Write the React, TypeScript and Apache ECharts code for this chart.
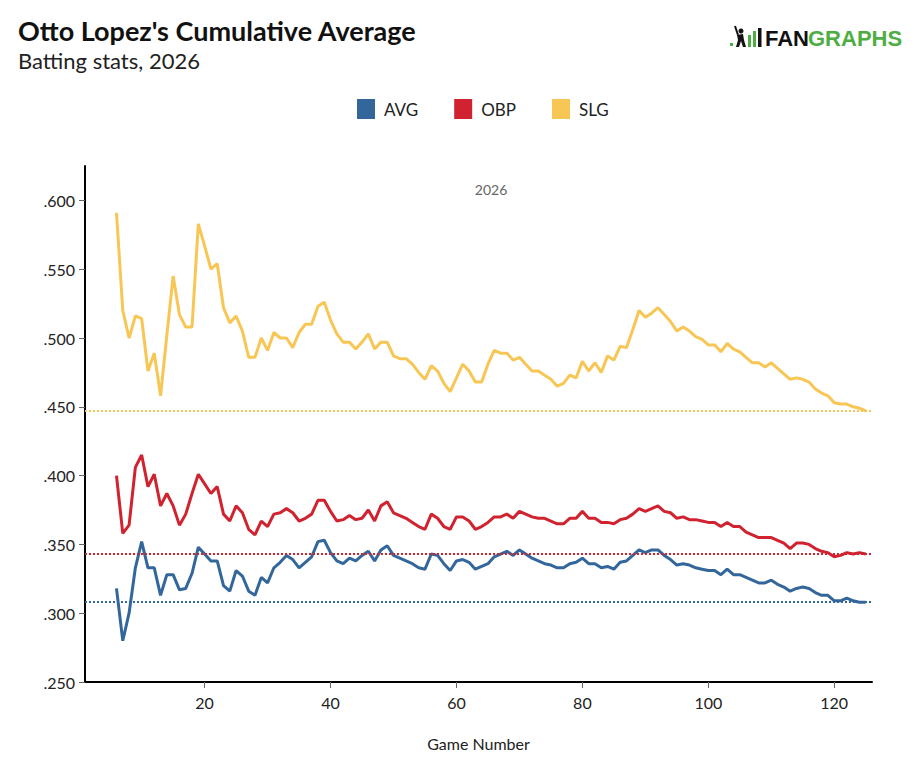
import React, { useEffect, useRef } from "react";
import * as echarts from "echarts";

// game number of the first point, one point per game after that
const firstGame = 6;

const avg = [
  0.318, 0.28, 0.3, 0.333, 0.352, 0.333, 0.333, 0.313, 0.328, 0.328,
  0.317, 0.318, 0.329, 0.348, 0.343, 0.338, 0.338, 0.32, 0.316, 0.331,
  0.327, 0.316, 0.313, 0.326, 0.322, 0.333, 0.337, 0.342, 0.339, 0.333,
  0.337, 0.341, 0.352, 0.353, 0.344, 0.338, 0.336, 0.34, 0.338, 0.342,
  0.345, 0.338, 0.346, 0.349, 0.342, 0.34, 0.338, 0.336, 0.333, 0.332,
  0.343, 0.342, 0.336, 0.331, 0.338, 0.339, 0.337, 0.332, 0.334, 0.336,
  0.341, 0.343, 0.345, 0.342, 0.346, 0.343, 0.34, 0.338, 0.336, 0.335,
  0.333, 0.333, 0.336, 0.337, 0.34, 0.336, 0.336, 0.333, 0.334, 0.332,
  0.337, 0.338, 0.342, 0.346, 0.344, 0.346, 0.346, 0.342, 0.339, 0.335,
  0.336, 0.335, 0.333, 0.332, 0.331, 0.331, 0.328, 0.332, 0.328, 0.328,
  0.326, 0.324, 0.322, 0.322, 0.324, 0.321, 0.319, 0.316, 0.318, 0.319,
  0.318, 0.315, 0.313, 0.313, 0.309, 0.309, 0.311, 0.309, 0.308, 0.308,
];

const obp = [
  0.4, 0.358, 0.364, 0.406, 0.415, 0.392, 0.401, 0.378, 0.387, 0.378,
  0.364, 0.372, 0.387, 0.401, 0.394, 0.387, 0.392, 0.372, 0.367, 0.378,
  0.373, 0.361, 0.357, 0.367, 0.363, 0.372, 0.373, 0.376, 0.373, 0.367,
  0.369, 0.372, 0.382, 0.382, 0.374, 0.367, 0.368, 0.371, 0.368, 0.369,
  0.375, 0.367, 0.378, 0.381, 0.373, 0.371, 0.369, 0.366, 0.363, 0.361,
  0.372, 0.369, 0.363, 0.361, 0.37, 0.37, 0.367, 0.361, 0.363, 0.366,
  0.37, 0.37, 0.372, 0.369, 0.374, 0.372, 0.37, 0.369, 0.369, 0.367,
  0.365, 0.365, 0.369, 0.369, 0.374, 0.369, 0.369, 0.366, 0.366, 0.365,
  0.368, 0.369, 0.372, 0.376, 0.374, 0.376, 0.378, 0.374, 0.373, 0.369,
  0.37, 0.368, 0.368, 0.367, 0.366, 0.366, 0.363, 0.366, 0.363, 0.363,
  0.359, 0.357, 0.355, 0.355, 0.355, 0.353, 0.351, 0.347, 0.351, 0.351,
  0.35, 0.347, 0.345, 0.344, 0.341, 0.342, 0.344, 0.343, 0.344, 0.343,
];

const slg = [
  0.591, 0.52, 0.5, 0.516, 0.514, 0.476, 0.489, 0.458, 0.502, 0.545,
  0.517, 0.508, 0.508, 0.583, 0.567, 0.55, 0.554, 0.522, 0.511, 0.516,
  0.505, 0.486, 0.486, 0.5, 0.491, 0.504, 0.5, 0.5, 0.493, 0.504,
  0.51, 0.51, 0.523, 0.526, 0.513, 0.503, 0.497, 0.497, 0.492, 0.497,
  0.503, 0.492, 0.497, 0.497, 0.487, 0.485, 0.485, 0.481, 0.475, 0.47,
  0.48, 0.476, 0.467, 0.461, 0.471, 0.481, 0.476, 0.468, 0.468, 0.481,
  0.491, 0.489, 0.489, 0.484, 0.486, 0.481, 0.476, 0.476, 0.473, 0.47,
  0.465, 0.467, 0.473, 0.471, 0.483, 0.476, 0.482, 0.475, 0.487, 0.484,
  0.494, 0.493, 0.506, 0.52, 0.515, 0.518, 0.522, 0.517, 0.512, 0.505,
  0.508, 0.505, 0.501, 0.499, 0.495, 0.495, 0.49, 0.496, 0.492, 0.49,
  0.486, 0.482, 0.482, 0.479, 0.482, 0.478, 0.474, 0.47, 0.471, 0.47,
  0.468, 0.463, 0.46, 0.458, 0.453, 0.452, 0.452, 0.45, 0.449, 0.447,
];

const yTicks = [0.25, 0.3, 0.35, 0.4, 0.45, 0.5, 0.55, 0.6];
const xTicks = [20, 40, 60, 80, 100, 120];
const seasonLabel = "2026";

const colors = { AVG: "#33679b", OBP: "#d0232f", SLG: "#f8c654" };
const font = "Lato, 'Noto Sans', sans-serif";

const toPoints = (vals: number[]) => vals.map((v, i) => [firstGame + i, v]);

const makeSeries = (name: string, vals: number[], color: string, extra = {}) => ({
  name,
  type: "line",
  data: toPoints(vals),
  showSymbol: false,
  color,
  lineStyle: { width: 3, color },
  markLine: {
    silent: true,
    symbol: "none",
    precision: 3,
    label: { show: false },
    lineStyle: { type: "dotted", width: 2, color },
    data: [{ yAxis: vals[vals.length - 1] }],
  },
  ...extra,
});

const App: React.FC = () => {
  const chartRef = useRef<HTMLDivElement>(null);

  useEffect(() => {
    const chart = echarts.init(chartRef.current, null, { renderer: "svg" });
    const lastGame = firstGame + avg.length - 1;

    chart.setOption({
      animation: false,
      backgroundColor: "#fff",
      title: {
        text: "Otto Lopez's Cumulative Average",
        subtext: "Batting stats, 2026",
        left: 18,
        top: 17,
        padding: 0,
        itemGap: 5,
        textStyle: { fontFamily: font, fontSize: 27, fontWeight: "bold", color: "#111" },
        subtextStyle: { fontFamily: font, fontSize: 22, color: "#222" },
      },
      legend: {
        top: 99,
        left: 357,
        padding: 0,
        icon: "rect",
        itemWidth: 18,
        itemHeight: 20,
        itemGap: 36,
        selectedMode: false,
        textStyle: { fontFamily: font, fontSize: 17, color: "#222", padding: [0, 0, 0, 4] },
        data: ["AVG", "OBP", "SLG"],
      },
      grid: { left: 85, right: 42, top: 166, bottom: 81 },
      xAxis: {
        type: "value",
        min: firstGame - 5,
        max: lastGame + 1,
        name: "Game Number",
        nameLocation: "middle",
        nameGap: 53,
        nameTextStyle: { fontFamily: font, fontSize: 16, color: "#222" },
        axisLine: { lineStyle: { color: "#000", width: 2 } },
        axisTick: { customValues: xTicks, length: 6, lineStyle: { color: "#666" } },
        axisLabel: {
          customValues: xTicks,
          fontFamily: font,
          fontSize: 16,
          color: "#222",
          margin: 12,
        },
        splitLine: { show: false },
      },
      yAxis: {
        type: "value",
        min: 0.25,
        max: 0.625,
        axisLine: { show: true, lineStyle: { color: "#000", width: 2 } },
        axisTick: { show: true, customValues: yTicks, length: 6, lineStyle: { color: "#666" } },
        axisLabel: {
          customValues: yTicks,
          fontFamily: font,
          fontSize: 16,
          color: "#222",
          margin: 10,
          formatter: (v: number) => v.toFixed(3).replace(/^0/, ""),
        },
        splitLine: { show: false },
      },
      series: [
        makeSeries("AVG", avg, colors.AVG),
        makeSeries("OBP", obp, colors.OBP),
        makeSeries("SLG", slg, colors.SLG, {
          markArea: {
            silent: true,
            itemStyle: { color: "rgba(0,0,0,0)" },
            label: {
              show: true,
              position: "insideTop",
              distance: 16,
              fontFamily: font,
              fontSize: 14,
              color: "#666",
            },
            data: [[{ xAxis: firstGame, name: seasonLabel }, { xAxis: lastGame }]],
          },
        }),
      ],
      graphic: [
        {
          type: "group",
          x: 728,
          y: 27,
          children: [
            { type: "rect", shape: { x: 2, y: 16, width: 3, height: 3 }, style: { fill: "#4fae43" } },
            { type: "circle", shape: { cx: 13, cy: 4, r: 2.5 }, style: { fill: "#111" } },
            {
              type: "polygon",
              shape: { points: [[9, 8], [15, 7], [16, 13], [18, 20], [15, 20], [13, 14], [11, 20], [8, 20], [10, 13]] },
              style: { fill: "#111" },
            },
            { type: "line", shape: { x1: 10, y1: 8, x2: 7, y2: -1 }, style: { stroke: "#111", lineWidth: 2 } },
            { type: "rect", shape: { x: 20, y: 8, width: 3, height: 12 }, style: { fill: "#4fae43" } },
            { type: "rect", shape: { x: 25, y: 4, width: 3, height: 16 }, style: { fill: "#4fae43" } },
            { type: "rect", shape: { x: 30, y: 1, width: 3.5, height: 19 }, style: { fill: "#111" } },
            {
              type: "text",
              x: 37,
              y: 0,
              style: { text: "FAN", font: "bold 22px 'Liberation Sans', Arial, sans-serif", fill: "#111" },
            },
            {
              type: "text",
              x: 80,
              y: 0,
              style: { text: "GRAPHS", font: "bold 22px 'Liberation Sans', Arial, sans-serif", fill: "#4fae43" },
            },
          ],
        },
      ],
    });

    return () => {
      chart.dispose();
    };
  }, []);

  return (
    <div
      ref={chartRef}
      style={{ position: "fixed", left: 0, top: 0, width: 914, height: 763, background: "#fff" }}
    />
  );
};

export default App;
